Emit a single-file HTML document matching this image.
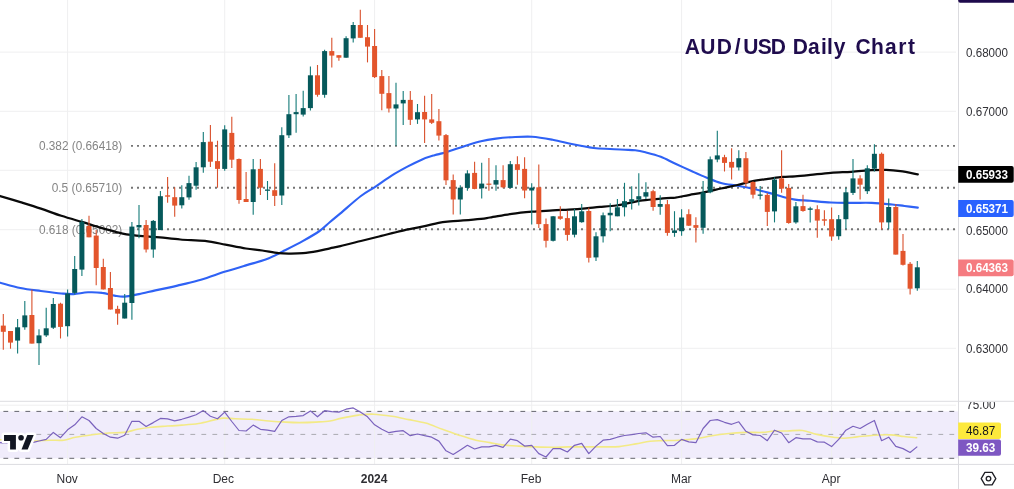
<!DOCTYPE html>
<html lang="en"><head><meta charset="utf-8"><title>AUD/USD Daily Chart</title>
<style>html,body{margin:0;padding:0;background:#fff;}body{width:1014px;height:489px;overflow:hidden;font-family:"Liberation Sans",sans-serif;}svg{display:block;}text{filter:url(#noop);}text{font-family:"Liberation Sans",sans-serif;}</style></head><body>
<svg width="1014" height="489" viewBox="0 0 1014 489">
<defs><filter id="noop" x="-5%" y="-20%" width="110%" height="140%"><feOffset dx="0" dy="0"/></filter></defs>
<rect x="0" y="0" width="1014" height="489" fill="#ffffff"/>
<rect x="0" y="411.4" width="958.3" height="46.9" fill="#f0ecfb"/>
<line x1="67.6" y1="0" x2="67.6" y2="464.4" stroke="#efeff0" stroke-width="1"/>
<line x1="224.7" y1="0" x2="224.7" y2="464.4" stroke="#efeff0" stroke-width="1"/>
<line x1="374.6" y1="0" x2="374.6" y2="464.4" stroke="#efeff0" stroke-width="1"/>
<line x1="531.7" y1="0" x2="531.7" y2="464.4" stroke="#efeff0" stroke-width="1"/>
<line x1="681.6" y1="0" x2="681.6" y2="464.4" stroke="#efeff0" stroke-width="1"/>
<line x1="831.6" y1="0" x2="831.6" y2="464.4" stroke="#efeff0" stroke-width="1"/>
<line x1="0" y1="52.1" x2="956" y2="52.1" stroke="#efeff0" stroke-width="1"/>
<line x1="0" y1="111.3" x2="956" y2="111.3" stroke="#efeff0" stroke-width="1"/>
<line x1="0" y1="170.3" x2="956" y2="170.3" stroke="#efeff0" stroke-width="1"/>
<line x1="0" y1="229.7" x2="956" y2="229.7" stroke="#efeff0" stroke-width="1"/>
<line x1="0" y1="289.2" x2="956" y2="289.2" stroke="#efeff0" stroke-width="1"/>
<line x1="0" y1="348.3" x2="956" y2="348.3" stroke="#efeff0" stroke-width="1"/>
<line x1="0" y1="405.2" x2="956" y2="405.2" stroke="#efeff0" stroke-width="1"/>
<line x1="0" y1="401.3" x2="1014" y2="401.3" stroke="#dcdce0" stroke-width="1"/>
<line x1="0" y1="464.4" x2="1014" y2="464.4" stroke="#dcdce0" stroke-width="1"/>
<line x1="958.5" y1="0" x2="958.5" y2="489" stroke="#dbdbdf" stroke-width="1"/>
<rect x="958.2" y="-3" width="58" height="5.7" rx="2" fill="#1e0a4c"/>
<text x="38.9" y="150.3" font-size="12.5" fill="#858585" textLength="83.4" lengthAdjust="spacingAndGlyphs">0.382 (0.66418)</text>
<line x1="131" y1="145.9" x2="956" y2="145.9" stroke="#747474" stroke-width="1.9" stroke-dasharray="2 4"/>
<text x="51.7" y="192.2" font-size="12.5" fill="#858585" textLength="70.6" lengthAdjust="spacingAndGlyphs">0.5 (0.65710)</text>
<line x1="131" y1="187.8" x2="956" y2="187.8" stroke="#747474" stroke-width="1.9" stroke-dasharray="2 4"/>
<text x="38.9" y="233.6" font-size="12.5" fill="#858585" textLength="83.4" lengthAdjust="spacingAndGlyphs">0.618 (0.65002)</text>
<line x1="131" y1="229.2" x2="956" y2="229.2" stroke="#747474" stroke-width="1.9" stroke-dasharray="2 4"/>
<line x1="3.4" y1="411.4" x2="955" y2="411.4" stroke="#55555c" stroke-width="0.9" stroke-dasharray="4.8 6.2"/>
<line x1="3.4" y1="458.3" x2="955" y2="458.3" stroke="#55555c" stroke-width="0.9" stroke-dasharray="4.8 6.2"/>
<line x1="3.4" y1="434.4" x2="955" y2="434.4" stroke="#a9a9b0" stroke-width="1" stroke-dasharray="4.8 6.2"/>
<path d="M-3.0 282.0 C-2.5 282.1 -3.9 281.7 0.0 282.7 C3.9 283.7 13.6 286.6 20.4 288.0 C27.2 289.4 34.1 290.1 40.9 291.0 C47.7 291.9 55.8 293.0 61.3 293.5 C66.8 294.0 69.1 294.3 73.6 294.1 C78.0 293.9 83.2 292.5 88.0 292.3 C92.8 292.1 97.8 292.3 102.2 292.9 C106.6 293.4 110.8 295.0 114.5 295.6 C118.2 296.2 120.6 296.9 124.7 296.6 C128.8 296.4 133.9 295.1 139.0 294.1 C144.1 293.1 150.2 291.5 155.4 290.4 C160.6 289.3 165.8 288.3 170.0 287.4 C174.2 286.5 175.2 286.2 180.4 284.9 C185.6 283.6 193.4 282.0 200.9 279.8 C208.4 277.6 217.9 274.0 225.4 271.6 C232.9 269.2 239.1 267.4 245.9 265.4 C252.7 263.3 260.2 261.6 266.3 259.3 C272.4 257.0 276.6 254.6 282.7 251.5 C288.8 248.4 297.0 244.3 303.1 240.9 C309.2 237.5 315.0 234.2 319.5 231.0 C324.0 227.8 326.5 224.9 330.0 222.0 C333.5 219.1 335.2 217.7 340.4 213.4 C345.5 209.1 355.1 200.4 360.9 196.0 C366.7 191.6 370.1 190.2 375.2 186.8 C380.3 183.4 386.2 179.0 391.6 175.6 C397.1 172.2 402.8 169.1 407.9 166.4 C413.0 163.7 417.8 161.3 422.2 159.4 C426.6 157.5 431.2 156.2 434.5 155.2 C437.8 154.2 439.4 154.1 442.0 153.4 C444.6 152.7 446.6 152.0 450.4 150.8 C454.2 149.6 459.9 147.6 465.0 146.0 C470.1 144.4 475.8 142.4 481.0 141.2 C486.2 140.0 490.9 139.3 496.0 138.6 C501.1 137.9 505.8 137.5 511.8 137.2 C517.8 136.9 525.2 136.3 532.0 136.7 C538.8 137.1 545.9 138.5 552.7 139.8 C559.5 141.1 566.2 142.9 573.0 144.3 C579.8 145.7 587.4 147.2 593.6 148.0 C599.8 148.8 604.8 148.7 610.0 149.0 C615.2 149.3 620.8 149.5 625.0 149.7 C629.2 149.9 631.8 149.9 635.2 150.3 C638.6 150.7 641.1 151.2 645.4 152.3 C649.7 153.4 655.7 154.9 660.8 156.8 C665.9 158.8 670.7 161.6 676.0 164.0 C681.3 166.4 687.4 169.2 692.5 171.5 C697.6 173.8 702.0 175.8 706.8 177.7 C711.5 179.6 715.9 181.7 721.0 183.0 C726.1 184.3 732.4 184.9 737.5 185.8 C742.6 186.7 746.7 187.4 751.8 188.5 C756.9 189.6 762.9 191.2 768.0 192.6 C773.1 194.0 778.0 195.5 782.5 196.7 C787.0 197.9 790.4 198.9 795.0 199.6 C799.6 200.3 804.4 200.3 810.4 200.8 C816.4 201.3 824.1 202.2 830.9 202.5 C837.7 202.8 844.5 202.8 851.3 202.9 C858.1 203.0 865.0 202.6 871.8 202.9 C878.6 203.2 886.8 204.0 892.2 204.5 C897.7 205.0 900.2 205.5 904.5 206.0 C908.8 206.5 915.6 207.3 917.8 207.6" fill="none" stroke="#2f62f5" stroke-width="2.15" stroke-linejoin="round" stroke-linecap="round"/>
<path d="M-3.0 195.0 C-2.5 195.2 -3.9 194.8 0.0 196.0 C3.9 197.2 13.6 200.0 20.4 202.1 C27.2 204.2 34.1 206.3 40.9 208.6 C47.7 210.9 54.5 213.6 61.3 215.8 C68.1 218.0 75.0 219.9 81.8 221.9 C88.6 223.9 95.4 226.2 102.2 228.1 C109.0 230.0 115.9 232.2 122.7 233.6 C129.5 234.9 136.9 235.6 143.1 236.2 C149.3 236.8 153.8 236.8 160.0 237.4 C166.2 238.0 172.9 238.9 180.4 239.5 C187.9 240.1 197.5 240.1 205.0 240.9 C212.5 241.8 218.6 243.3 225.4 244.6 C232.2 245.9 239.8 247.5 245.9 248.5 C252.0 249.5 256.8 249.7 262.2 250.5 C267.6 251.3 273.8 252.7 278.6 253.2 C283.4 253.7 286.8 253.6 290.9 253.6 C295.0 253.6 298.7 253.6 303.1 253.2 C307.5 252.8 313.0 251.9 317.5 251.1 C322.0 250.3 326.2 249.1 330.0 248.3 C333.8 247.5 335.2 247.3 340.4 246.1 C345.5 244.9 354.1 242.7 360.9 241.0 C367.7 239.3 374.5 237.6 381.3 235.9 C388.1 234.2 395.0 232.3 401.8 230.8 C408.6 229.3 416.1 228.0 422.2 226.7 C428.3 225.4 434.0 223.7 438.6 222.8 C443.2 221.9 445.9 221.8 450.0 221.4 C454.1 221.0 457.9 220.8 463.1 220.4 C468.3 220.0 476.5 219.3 481.0 218.8 C485.5 218.3 484.9 218.3 490.0 217.5 C495.1 216.7 504.8 214.8 511.8 213.8 C518.8 212.8 525.2 212.2 532.0 211.6 C538.8 211.0 545.9 210.8 552.7 210.4 C559.5 210.0 567.2 209.8 573.0 209.4 C578.8 209.0 583.0 208.5 587.5 208.1 C592.0 207.7 595.2 207.3 600.0 206.9 C604.8 206.5 611.8 206.0 616.0 205.5 C620.2 205.0 620.5 204.7 625.0 203.8 C629.5 203.0 636.4 201.3 642.7 200.4 C649.0 199.5 657.5 198.9 663.0 198.4 C668.5 197.9 672.2 198.0 675.4 197.7 C678.6 197.3 679.9 196.8 682.3 196.3 C684.7 195.8 686.6 195.4 690.0 194.8 C693.4 194.2 697.5 193.7 702.7 192.6 C707.9 191.5 715.2 189.8 721.0 188.5 C726.8 187.2 732.4 186.2 737.5 185.0 C742.6 183.8 746.7 182.3 751.8 181.3 C756.9 180.3 762.9 179.6 768.0 178.9 C773.1 178.2 778.0 177.3 782.5 176.9 C787.0 176.5 790.4 176.6 795.0 176.3 C799.6 176.0 804.4 175.5 810.4 174.9 C816.4 174.3 824.1 173.3 830.9 172.8 C837.7 172.3 844.5 172.2 851.3 171.8 C858.1 171.4 866.0 170.5 871.8 170.2 C877.6 169.9 881.3 169.6 886.1 169.8 C890.9 170.0 895.1 170.4 900.4 171.2 C905.7 171.9 914.9 173.8 917.8 174.3" fill="none" stroke="#0a0a0a" stroke-width="2.25" stroke-linejoin="round" stroke-linecap="round"/>
<line x1="3.3" y1="314.0" x2="3.3" y2="349.8" stroke="#d9502c" stroke-width="1.1"/>
<rect x="0.8" y="325.6" width="5.0" height="6.2" fill="#e3552c"/>
<line x1="10.5" y1="331.0" x2="10.5" y2="348.7" stroke="#d9502c" stroke-width="1.1"/>
<rect x="8.0" y="331.0" width="5.0" height="11.6" fill="#e3552c"/>
<line x1="17.6" y1="319.0" x2="17.6" y2="353.4" stroke="#137a78" stroke-width="1.1"/>
<rect x="15.1" y="327.3" width="5.0" height="13.3" fill="#06595b"/>
<line x1="24.8" y1="301.0" x2="24.8" y2="329.7" stroke="#137a78" stroke-width="1.1"/>
<rect x="22.3" y="315.4" width="5.0" height="11.9" fill="#06595b"/>
<line x1="31.9" y1="289.4" x2="31.9" y2="343.6" stroke="#d9502c" stroke-width="1.1"/>
<rect x="29.4" y="315.0" width="5.0" height="28.6" fill="#e3552c"/>
<line x1="39.0" y1="329.3" x2="39.0" y2="365.0" stroke="#137a78" stroke-width="1.1"/>
<rect x="36.5" y="335.4" width="5.0" height="7.8" fill="#06595b"/>
<line x1="46.2" y1="307.8" x2="46.2" y2="337.0" stroke="#137a78" stroke-width="1.1"/>
<rect x="43.7" y="328.3" width="5.0" height="7.1" fill="#06595b"/>
<line x1="53.3" y1="298.0" x2="53.3" y2="329.0" stroke="#137a78" stroke-width="1.1"/>
<rect x="50.8" y="304.0" width="5.0" height="23.7" fill="#06595b"/>
<line x1="60.5" y1="302.7" x2="60.5" y2="338.5" stroke="#d9502c" stroke-width="1.1"/>
<rect x="58.0" y="303.7" width="5.0" height="23.2" fill="#e3552c"/>
<line x1="67.6" y1="289.4" x2="67.6" y2="336.5" stroke="#137a78" stroke-width="1.1"/>
<rect x="65.1" y="293.5" width="5.0" height="32.7" fill="#06595b"/>
<line x1="74.7" y1="256.0" x2="74.7" y2="294.5" stroke="#137a78" stroke-width="1.1"/>
<rect x="72.2" y="269.0" width="5.0" height="23.9" fill="#06595b"/>
<line x1="81.9" y1="218.9" x2="81.9" y2="276.0" stroke="#137a78" stroke-width="1.1"/>
<rect x="79.4" y="221.9" width="5.0" height="47.7" fill="#06595b"/>
<line x1="89.0" y1="215.8" x2="89.0" y2="237.3" stroke="#d9502c" stroke-width="1.1"/>
<rect x="86.5" y="226.0" width="5.0" height="11.3" fill="#e3552c"/>
<line x1="96.2" y1="230.0" x2="96.2" y2="285.3" stroke="#d9502c" stroke-width="1.1"/>
<rect x="93.7" y="235.6" width="5.0" height="32.4" fill="#e3552c"/>
<line x1="103.3" y1="258.7" x2="103.3" y2="289.4" stroke="#d9502c" stroke-width="1.1"/>
<rect x="100.8" y="267.0" width="5.0" height="22.4" fill="#e3552c"/>
<line x1="110.4" y1="272.0" x2="110.4" y2="309.5" stroke="#d9502c" stroke-width="1.1"/>
<rect x="107.9" y="288.0" width="5.0" height="21.5" fill="#e3552c"/>
<line x1="117.6" y1="305.8" x2="117.6" y2="324.8" stroke="#d9502c" stroke-width="1.1"/>
<rect x="115.1" y="308.9" width="5.0" height="4.7" fill="#e3552c"/>
<line x1="124.7" y1="294.0" x2="124.7" y2="318.5" stroke="#137a78" stroke-width="1.1"/>
<rect x="122.2" y="302.7" width="5.0" height="15.8" fill="#06595b"/>
<line x1="131.9" y1="222.0" x2="131.9" y2="319.7" stroke="#137a78" stroke-width="1.1"/>
<rect x="129.4" y="226.6" width="5.0" height="76.4" fill="#06595b"/>
<line x1="139.0" y1="205.0" x2="139.0" y2="238.3" stroke="#137a78" stroke-width="1.1"/>
<rect x="136.5" y="225.0" width="5.0" height="2.4" fill="#06595b"/>
<line x1="146.1" y1="219.9" x2="146.1" y2="252.6" stroke="#d9502c" stroke-width="1.1"/>
<rect x="143.6" y="225.0" width="5.0" height="24.5" fill="#e3552c"/>
<line x1="153.3" y1="219.9" x2="153.3" y2="257.7" stroke="#137a78" stroke-width="1.1"/>
<rect x="150.8" y="220.9" width="5.0" height="28.6" fill="#06595b"/>
<line x1="160.4" y1="191.0" x2="160.4" y2="230.1" stroke="#137a78" stroke-width="1.1"/>
<rect x="157.9" y="196.2" width="5.0" height="33.9" fill="#06595b"/>
<line x1="167.6" y1="177.0" x2="167.6" y2="202.7" stroke="#d9502c" stroke-width="1.1"/>
<rect x="165.1" y="195.3" width="5.0" height="1.4" fill="#e3552c"/>
<line x1="174.7" y1="187.2" x2="174.7" y2="216.8" stroke="#d9502c" stroke-width="1.1"/>
<rect x="172.2" y="197.2" width="5.0" height="8.4" fill="#e3552c"/>
<line x1="181.8" y1="185.2" x2="181.8" y2="208.6" stroke="#137a78" stroke-width="1.1"/>
<rect x="179.3" y="197.2" width="5.0" height="8.1" fill="#06595b"/>
<line x1="189.0" y1="175.8" x2="189.0" y2="199.7" stroke="#137a78" stroke-width="1.1"/>
<rect x="186.5" y="183.1" width="5.0" height="14.3" fill="#06595b"/>
<line x1="196.1" y1="162.1" x2="196.1" y2="189.8" stroke="#137a78" stroke-width="1.1"/>
<rect x="193.6" y="167.3" width="5.0" height="18.4" fill="#06595b"/>
<line x1="203.3" y1="132.0" x2="203.3" y2="172.8" stroke="#137a78" stroke-width="1.1"/>
<rect x="200.8" y="142.1" width="5.0" height="25.2" fill="#06595b"/>
<line x1="210.4" y1="125.0" x2="210.4" y2="166.9" stroke="#d9502c" stroke-width="1.1"/>
<rect x="207.9" y="141.7" width="5.0" height="20.0" fill="#e3552c"/>
<line x1="217.5" y1="140.7" x2="217.5" y2="187.7" stroke="#d9502c" stroke-width="1.1"/>
<rect x="215.0" y="161.1" width="5.0" height="7.8" fill="#e3552c"/>
<line x1="224.7" y1="125.3" x2="224.7" y2="170.7" stroke="#137a78" stroke-width="1.1"/>
<rect x="222.2" y="129.4" width="5.0" height="39.5" fill="#06595b"/>
<line x1="231.8" y1="116.7" x2="231.8" y2="167.9" stroke="#d9502c" stroke-width="1.1"/>
<rect x="229.3" y="132.9" width="5.0" height="26.8" fill="#e3552c"/>
<line x1="239.0" y1="158.5" x2="239.0" y2="203.7" stroke="#d9502c" stroke-width="1.1"/>
<rect x="236.5" y="159.0" width="5.0" height="41.0" fill="#e3552c"/>
<line x1="246.1" y1="172.0" x2="246.1" y2="202.0" stroke="#d9502c" stroke-width="1.1"/>
<rect x="243.6" y="199.0" width="5.0" height="3.0" fill="#e3552c"/>
<line x1="253.2" y1="159.0" x2="253.2" y2="214.7" stroke="#137a78" stroke-width="1.1"/>
<rect x="250.7" y="169.3" width="5.0" height="32.7" fill="#06595b"/>
<line x1="260.4" y1="159.0" x2="260.4" y2="194.9" stroke="#d9502c" stroke-width="1.1"/>
<rect x="257.9" y="168.9" width="5.0" height="18.8" fill="#e3552c"/>
<line x1="267.5" y1="181.0" x2="267.5" y2="200.0" stroke="#137a78" stroke-width="1.1"/>
<rect x="265.0" y="189.5" width="5.0" height="1.3" fill="#06595b"/>
<line x1="274.7" y1="163.2" x2="274.7" y2="206.1" stroke="#d9502c" stroke-width="1.1"/>
<rect x="272.2" y="190.2" width="5.0" height="5.7" fill="#e3552c"/>
<line x1="281.8" y1="127.2" x2="281.8" y2="205.1" stroke="#137a78" stroke-width="1.1"/>
<rect x="279.3" y="135.2" width="5.0" height="60.3" fill="#06595b"/>
<line x1="288.9" y1="94.9" x2="288.9" y2="137.9" stroke="#137a78" stroke-width="1.1"/>
<rect x="286.4" y="114.2" width="5.0" height="21.1" fill="#06595b"/>
<line x1="296.1" y1="93.9" x2="296.1" y2="132.8" stroke="#137a78" stroke-width="1.1"/>
<rect x="293.6" y="112.1" width="5.0" height="2.1" fill="#06595b"/>
<line x1="303.2" y1="90.8" x2="303.2" y2="116.6" stroke="#137a78" stroke-width="1.1"/>
<rect x="300.7" y="108.1" width="5.0" height="6.5" fill="#06595b"/>
<line x1="310.4" y1="66.5" x2="310.4" y2="110.6" stroke="#137a78" stroke-width="1.1"/>
<rect x="307.9" y="75.3" width="5.0" height="32.8" fill="#06595b"/>
<line x1="317.5" y1="65.0" x2="317.5" y2="96.7" stroke="#d9502c" stroke-width="1.1"/>
<rect x="315.0" y="75.3" width="5.0" height="19.5" fill="#e3552c"/>
<line x1="324.6" y1="49.7" x2="324.6" y2="97.7" stroke="#137a78" stroke-width="1.1"/>
<rect x="322.1" y="51.1" width="5.0" height="43.7" fill="#06595b"/>
<line x1="331.8" y1="37.8" x2="331.8" y2="67.5" stroke="#d9502c" stroke-width="1.1"/>
<rect x="329.3" y="51.1" width="5.0" height="4.5" fill="#e3552c"/>
<line x1="338.9" y1="55.2" x2="338.9" y2="60.7" stroke="#d9502c" stroke-width="1.1"/>
<rect x="336.4" y="55.2" width="5.0" height="2.5" fill="#e3552c"/>
<line x1="346.1" y1="36.2" x2="346.1" y2="57.7" stroke="#137a78" stroke-width="1.1"/>
<rect x="343.6" y="38.2" width="5.0" height="19.5" fill="#06595b"/>
<line x1="353.2" y1="21.9" x2="353.2" y2="42.5" stroke="#137a78" stroke-width="1.1"/>
<rect x="350.7" y="25.0" width="5.0" height="13.4" fill="#06595b"/>
<line x1="360.3" y1="9.8" x2="360.3" y2="37.8" stroke="#d9502c" stroke-width="1.1"/>
<rect x="357.8" y="25.0" width="5.0" height="12.8" fill="#e3552c"/>
<line x1="367.5" y1="25.0" x2="367.5" y2="62.4" stroke="#d9502c" stroke-width="1.1"/>
<rect x="365.0" y="37.2" width="5.0" height="9.4" fill="#e3552c"/>
<line x1="374.6" y1="29.0" x2="374.6" y2="78.1" stroke="#d9502c" stroke-width="1.1"/>
<rect x="372.1" y="46.0" width="5.0" height="31.1" fill="#e3552c"/>
<line x1="381.8" y1="70.1" x2="381.8" y2="110.2" stroke="#d9502c" stroke-width="1.1"/>
<rect x="379.3" y="76.1" width="5.0" height="17.7" fill="#e3552c"/>
<line x1="388.9" y1="76.1" x2="388.9" y2="112.6" stroke="#d9502c" stroke-width="1.1"/>
<rect x="386.4" y="93.1" width="5.0" height="15.4" fill="#e3552c"/>
<line x1="396.0" y1="82.8" x2="396.0" y2="145.7" stroke="#137a78" stroke-width="1.1"/>
<rect x="393.5" y="104.4" width="5.0" height="4.1" fill="#06595b"/>
<line x1="403.2" y1="91.0" x2="403.2" y2="124.9" stroke="#137a78" stroke-width="1.1"/>
<rect x="400.7" y="99.9" width="5.0" height="3.5" fill="#06595b"/>
<line x1="410.3" y1="91.0" x2="410.3" y2="124.9" stroke="#d9502c" stroke-width="1.1"/>
<rect x="407.8" y="99.9" width="5.0" height="19.9" fill="#e3552c"/>
<line x1="417.5" y1="104.0" x2="417.5" y2="123.9" stroke="#137a78" stroke-width="1.1"/>
<rect x="415.0" y="112.2" width="5.0" height="7.2" fill="#06595b"/>
<line x1="424.6" y1="95.8" x2="424.6" y2="142.9" stroke="#d9502c" stroke-width="1.1"/>
<rect x="422.1" y="112.0" width="5.0" height="7.4" fill="#e3552c"/>
<line x1="431.7" y1="93.9" x2="431.7" y2="123.9" stroke="#d9502c" stroke-width="1.1"/>
<rect x="429.2" y="119.4" width="5.0" height="3.4" fill="#e3552c"/>
<line x1="438.9" y1="109.1" x2="438.9" y2="140.4" stroke="#d9502c" stroke-width="1.1"/>
<rect x="436.4" y="121.2" width="5.0" height="14.4" fill="#e3552c"/>
<line x1="446.0" y1="133.9" x2="446.0" y2="184.9" stroke="#d9502c" stroke-width="1.1"/>
<rect x="443.5" y="135.1" width="5.0" height="45.2" fill="#e3552c"/>
<line x1="453.2" y1="174.6" x2="453.2" y2="214.5" stroke="#d9502c" stroke-width="1.1"/>
<rect x="450.7" y="180.1" width="5.0" height="19.4" fill="#e3552c"/>
<line x1="460.3" y1="185.2" x2="460.3" y2="214.5" stroke="#137a78" stroke-width="1.1"/>
<rect x="457.8" y="187.7" width="5.0" height="11.8" fill="#06595b"/>
<line x1="467.4" y1="170.3" x2="467.4" y2="190.7" stroke="#137a78" stroke-width="1.1"/>
<rect x="464.9" y="173.4" width="5.0" height="14.5" fill="#06595b"/>
<line x1="474.6" y1="161.7" x2="474.6" y2="189.3" stroke="#d9502c" stroke-width="1.1"/>
<rect x="472.1" y="172.9" width="5.0" height="16.0" fill="#e3552c"/>
<line x1="481.7" y1="162.7" x2="481.7" y2="198.5" stroke="#137a78" stroke-width="1.1"/>
<rect x="479.2" y="183.6" width="5.0" height="4.7" fill="#06595b"/>
<line x1="488.9" y1="158.0" x2="488.9" y2="190.7" stroke="#d9502c" stroke-width="1.1"/>
<rect x="486.4" y="183.6" width="5.0" height="1.2" fill="#e3552c"/>
<line x1="496.0" y1="165.2" x2="496.0" y2="190.7" stroke="#137a78" stroke-width="1.1"/>
<rect x="493.5" y="180.1" width="5.0" height="4.5" fill="#06595b"/>
<line x1="503.1" y1="165.2" x2="503.1" y2="188.3" stroke="#d9502c" stroke-width="1.1"/>
<rect x="500.6" y="180.1" width="5.0" height="7.2" fill="#e3552c"/>
<line x1="510.3" y1="161.1" x2="510.3" y2="188.3" stroke="#137a78" stroke-width="1.1"/>
<rect x="507.8" y="164.2" width="5.0" height="23.7" fill="#06595b"/>
<line x1="517.4" y1="156.2" x2="517.4" y2="184.8" stroke="#d9502c" stroke-width="1.1"/>
<rect x="514.9" y="164.2" width="5.0" height="5.7" fill="#e3552c"/>
<line x1="524.6" y1="157.2" x2="524.6" y2="198.3" stroke="#d9502c" stroke-width="1.1"/>
<rect x="522.1" y="168.9" width="5.0" height="21.6" fill="#e3552c"/>
<line x1="531.7" y1="183.2" x2="531.7" y2="224.4" stroke="#137a78" stroke-width="1.1"/>
<rect x="529.2" y="187.6" width="5.0" height="2.9" fill="#06595b"/>
<line x1="538.8" y1="164.4" x2="538.8" y2="228.0" stroke="#d9502c" stroke-width="1.1"/>
<rect x="536.3" y="187.3" width="5.0" height="36.8" fill="#e3552c"/>
<line x1="546.0" y1="218.4" x2="546.0" y2="247.6" stroke="#d9502c" stroke-width="1.1"/>
<rect x="543.5" y="224.1" width="5.0" height="16.7" fill="#e3552c"/>
<line x1="553.1" y1="215.9" x2="553.1" y2="241.5" stroke="#137a78" stroke-width="1.1"/>
<rect x="550.6" y="216.3" width="5.0" height="24.5" fill="#06595b"/>
<line x1="560.3" y1="206.3" x2="560.3" y2="219.8" stroke="#d9502c" stroke-width="1.1"/>
<rect x="557.8" y="216.3" width="5.0" height="2.5" fill="#e3552c"/>
<line x1="567.4" y1="210.8" x2="567.4" y2="240.8" stroke="#d9502c" stroke-width="1.1"/>
<rect x="564.9" y="218.1" width="5.0" height="16.8" fill="#e3552c"/>
<line x1="574.5" y1="209.0" x2="574.5" y2="237.4" stroke="#137a78" stroke-width="1.1"/>
<rect x="572.0" y="216.3" width="5.0" height="18.4" fill="#06595b"/>
<line x1="581.7" y1="203.9" x2="581.7" y2="222.7" stroke="#137a78" stroke-width="1.1"/>
<rect x="579.2" y="211.3" width="5.0" height="10.9" fill="#06595b"/>
<line x1="588.8" y1="207.7" x2="588.8" y2="262.5" stroke="#d9502c" stroke-width="1.1"/>
<rect x="586.3" y="211.0" width="5.0" height="46.8" fill="#e3552c"/>
<line x1="596.0" y1="232.3" x2="596.0" y2="260.9" stroke="#137a78" stroke-width="1.1"/>
<rect x="593.5" y="236.3" width="5.0" height="21.1" fill="#06595b"/>
<line x1="603.1" y1="212.4" x2="603.1" y2="242.5" stroke="#137a78" stroke-width="1.1"/>
<rect x="600.6" y="215.3" width="5.0" height="21.0" fill="#06595b"/>
<line x1="610.2" y1="203.2" x2="610.2" y2="231.2" stroke="#137a78" stroke-width="1.1"/>
<rect x="607.7" y="212.8" width="5.0" height="2.5" fill="#06595b"/>
<line x1="617.4" y1="199.1" x2="617.4" y2="216.3" stroke="#137a78" stroke-width="1.1"/>
<rect x="614.9" y="207.3" width="5.0" height="9.0" fill="#06595b"/>
<line x1="624.5" y1="182.8" x2="624.5" y2="216.5" stroke="#137a78" stroke-width="1.1"/>
<rect x="622.0" y="201.2" width="5.0" height="6.1" fill="#06595b"/>
<line x1="631.7" y1="186.3" x2="631.7" y2="209.4" stroke="#137a78" stroke-width="1.1"/>
<rect x="629.2" y="199.2" width="5.0" height="2.5" fill="#06595b"/>
<line x1="638.8" y1="173.2" x2="638.8" y2="205.6" stroke="#137a78" stroke-width="1.1"/>
<rect x="636.3" y="196.2" width="5.0" height="3.4" fill="#06595b"/>
<line x1="645.9" y1="182.3" x2="645.9" y2="198.9" stroke="#137a78" stroke-width="1.1"/>
<rect x="643.4" y="192.2" width="5.0" height="4.4" fill="#06595b"/>
<line x1="653.1" y1="189.7" x2="653.1" y2="210.7" stroke="#d9502c" stroke-width="1.1"/>
<rect x="650.6" y="191.2" width="5.0" height="15.8" fill="#e3552c"/>
<line x1="660.2" y1="195.3" x2="660.2" y2="214.7" stroke="#137a78" stroke-width="1.1"/>
<rect x="657.7" y="204.0" width="5.0" height="2.8" fill="#06595b"/>
<line x1="667.4" y1="200.1" x2="667.4" y2="235.8" stroke="#d9502c" stroke-width="1.1"/>
<rect x="664.9" y="204.2" width="5.0" height="28.7" fill="#e3552c"/>
<line x1="674.5" y1="211.2" x2="674.5" y2="236.8" stroke="#137a78" stroke-width="1.1"/>
<rect x="672.0" y="230.4" width="5.0" height="2.5" fill="#06595b"/>
<line x1="681.6" y1="209.2" x2="681.6" y2="235.7" stroke="#137a78" stroke-width="1.1"/>
<rect x="679.1" y="217.5" width="5.0" height="13.7" fill="#06595b"/>
<line x1="688.8" y1="209.2" x2="688.8" y2="226.1" stroke="#d9502c" stroke-width="1.1"/>
<rect x="686.3" y="214.2" width="5.0" height="11.5" fill="#e3552c"/>
<line x1="695.9" y1="217.3" x2="695.9" y2="242.5" stroke="#d9502c" stroke-width="1.1"/>
<rect x="693.4" y="225.1" width="5.0" height="2.7" fill="#e3552c"/>
<line x1="703.1" y1="181.0" x2="703.1" y2="233.7" stroke="#137a78" stroke-width="1.1"/>
<rect x="700.6" y="192.4" width="5.0" height="35.4" fill="#06595b"/>
<line x1="710.2" y1="156.4" x2="710.2" y2="193.3" stroke="#137a78" stroke-width="1.1"/>
<rect x="707.7" y="159.3" width="5.0" height="33.0" fill="#06595b"/>
<line x1="717.3" y1="130.8" x2="717.3" y2="162.3" stroke="#137a78" stroke-width="1.1"/>
<rect x="714.8" y="155.4" width="5.0" height="4.1" fill="#06595b"/>
<line x1="724.5" y1="154.8" x2="724.5" y2="171.5" stroke="#d9502c" stroke-width="1.1"/>
<rect x="722.0" y="157.2" width="5.0" height="5.7" fill="#e3552c"/>
<line x1="731.6" y1="148.2" x2="731.6" y2="179.6" stroke="#d9502c" stroke-width="1.1"/>
<rect x="729.1" y="161.9" width="5.0" height="5.7" fill="#e3552c"/>
<line x1="738.8" y1="150.3" x2="738.8" y2="170.5" stroke="#137a78" stroke-width="1.1"/>
<rect x="736.3" y="158.2" width="5.0" height="9.2" fill="#06595b"/>
<line x1="745.9" y1="152.1" x2="745.9" y2="186.7" stroke="#d9502c" stroke-width="1.1"/>
<rect x="743.4" y="158.2" width="5.0" height="24.6" fill="#e3552c"/>
<line x1="753.0" y1="181.3" x2="753.0" y2="198.6" stroke="#d9502c" stroke-width="1.1"/>
<rect x="750.5" y="182.0" width="5.0" height="12.7" fill="#e3552c"/>
<line x1="760.2" y1="186.1" x2="760.2" y2="199.6" stroke="#137a78" stroke-width="1.1"/>
<rect x="757.7" y="194.5" width="5.0" height="1.3" fill="#06595b"/>
<line x1="767.3" y1="193.0" x2="767.3" y2="226.1" stroke="#d9502c" stroke-width="1.1"/>
<rect x="764.8" y="194.9" width="5.0" height="17.0" fill="#e3552c"/>
<line x1="774.5" y1="177.4" x2="774.5" y2="222.4" stroke="#137a78" stroke-width="1.1"/>
<rect x="772.0" y="179.6" width="5.0" height="31.8" fill="#06595b"/>
<line x1="781.6" y1="150.3" x2="781.6" y2="192.7" stroke="#d9502c" stroke-width="1.1"/>
<rect x="779.1" y="178.4" width="5.0" height="10.2" fill="#e3552c"/>
<line x1="788.7" y1="183.9" x2="788.7" y2="223.7" stroke="#d9502c" stroke-width="1.1"/>
<rect x="786.2" y="187.9" width="5.0" height="35.1" fill="#e3552c"/>
<line x1="795.9" y1="202.0" x2="795.9" y2="223.7" stroke="#137a78" stroke-width="1.1"/>
<rect x="793.4" y="206.3" width="5.0" height="16.1" fill="#06595b"/>
<line x1="803.0" y1="194.8" x2="803.0" y2="211.8" stroke="#d9502c" stroke-width="1.1"/>
<rect x="800.5" y="206.1" width="5.0" height="4.9" fill="#e3552c"/>
<line x1="810.2" y1="206.8" x2="810.2" y2="222.4" stroke="#137a78" stroke-width="1.1"/>
<rect x="807.7" y="208.4" width="5.0" height="1.4" fill="#06595b"/>
<line x1="817.3" y1="205.3" x2="817.3" y2="237.8" stroke="#d9502c" stroke-width="1.1"/>
<rect x="814.8" y="209.2" width="5.0" height="11.4" fill="#e3552c"/>
<line x1="824.4" y1="210.2" x2="824.4" y2="225.8" stroke="#d9502c" stroke-width="1.1"/>
<rect x="821.9" y="219.3" width="5.0" height="1.4" fill="#e3552c"/>
<line x1="831.6" y1="207.6" x2="831.6" y2="240.7" stroke="#d9502c" stroke-width="1.1"/>
<rect x="829.1" y="219.2" width="5.0" height="17.3" fill="#e3552c"/>
<line x1="838.7" y1="215.0" x2="838.7" y2="239.7" stroke="#137a78" stroke-width="1.1"/>
<rect x="836.2" y="219.2" width="5.0" height="17.0" fill="#06595b"/>
<line x1="845.9" y1="187.8" x2="845.9" y2="229.0" stroke="#137a78" stroke-width="1.1"/>
<rect x="843.4" y="192.3" width="5.0" height="26.9" fill="#06595b"/>
<line x1="853.0" y1="159.1" x2="853.0" y2="194.9" stroke="#137a78" stroke-width="1.1"/>
<rect x="850.5" y="178.4" width="5.0" height="14.5" fill="#06595b"/>
<line x1="860.1" y1="175.3" x2="860.1" y2="199.4" stroke="#d9502c" stroke-width="1.1"/>
<rect x="857.6" y="178.4" width="5.0" height="6.3" fill="#e3552c"/>
<line x1="867.3" y1="165.3" x2="867.3" y2="193.9" stroke="#137a78" stroke-width="1.1"/>
<rect x="864.8" y="168.3" width="5.0" height="22.9" fill="#06595b"/>
<line x1="874.4" y1="144.2" x2="874.4" y2="171.4" stroke="#137a78" stroke-width="1.1"/>
<rect x="871.9" y="153.8" width="5.0" height="14.9" fill="#06595b"/>
<line x1="881.6" y1="152.4" x2="881.6" y2="229.4" stroke="#d9502c" stroke-width="1.1"/>
<rect x="879.1" y="153.8" width="5.0" height="68.6" fill="#e3552c"/>
<line x1="888.7" y1="198.4" x2="888.7" y2="229.0" stroke="#137a78" stroke-width="1.1"/>
<rect x="886.2" y="207.0" width="5.0" height="15.4" fill="#06595b"/>
<line x1="895.8" y1="204.1" x2="895.8" y2="254.6" stroke="#d9502c" stroke-width="1.1"/>
<rect x="893.3" y="207.0" width="5.0" height="47.6" fill="#e3552c"/>
<line x1="903.0" y1="234.0" x2="903.0" y2="265.6" stroke="#d9502c" stroke-width="1.1"/>
<rect x="900.5" y="250.9" width="5.0" height="13.9" fill="#e3552c"/>
<line x1="910.1" y1="262.1" x2="910.1" y2="294.5" stroke="#d9502c" stroke-width="1.1"/>
<rect x="907.6" y="263.8" width="5.0" height="24.9" fill="#e3552c"/>
<line x1="917.3" y1="261.1" x2="917.3" y2="290.8" stroke="#137a78" stroke-width="1.1"/>
<rect x="914.8" y="267.3" width="5.0" height="21.0" fill="#06595b"/>
<path d="M-2.0 439.6 C0.8 439.7 8.9 440.2 15.0 440.4 C21.1 440.6 28.5 441.0 34.4 441.0 C40.3 441.0 45.4 440.3 50.3 440.2 C55.2 440.1 59.5 440.7 63.7 440.2 C67.9 439.7 70.7 438.1 75.4 437.2 C80.2 436.3 86.6 435.4 92.2 434.7 C97.8 434.0 103.7 433.4 109.0 433.0 C114.3 432.6 119.2 433.0 124.0 432.4 C128.8 431.8 133.0 430.2 137.5 429.3 C142.0 428.4 146.3 427.7 150.9 427.2 C155.5 426.7 159.8 426.5 165.0 426.2 C170.2 425.9 176.2 425.6 181.8 425.1 C187.4 424.7 192.9 424.4 198.5 423.5 C204.1 422.6 211.1 420.5 215.3 419.6 C219.5 418.7 220.3 418.2 223.7 418.1 C227.0 418.0 230.7 418.6 235.4 418.8 C240.2 419.0 246.6 418.9 252.2 419.3 C257.8 419.7 263.3 420.5 268.9 421.0 C274.5 421.5 280.7 421.8 285.7 422.1 C290.7 422.4 294.1 422.6 299.1 422.6 C304.1 422.6 310.8 422.4 315.9 422.1 C321.0 421.8 325.7 421.7 330.0 421.0 C334.3 420.3 337.1 419.1 341.8 418.1 C346.6 417.1 353.2 415.8 358.5 415.1 C363.8 414.5 368.0 414.0 373.6 414.2 C379.2 414.4 386.1 415.4 392.0 416.3 C397.9 417.2 403.2 418.5 408.8 419.6 C414.4 420.7 420.0 421.5 425.6 423.1 C431.2 424.7 436.8 427.3 442.4 429.3 C448.0 431.3 453.5 433.4 459.1 435.2 C464.7 437.0 470.8 439.0 475.9 440.2 C481.0 441.4 485.7 441.8 490.0 442.6 C494.3 443.4 497.1 444.3 501.8 444.9 C506.6 445.5 512.9 445.8 518.5 446.1 C524.1 446.4 529.7 446.7 535.3 446.9 C540.9 447.1 546.4 447.3 552.0 447.3 C557.6 447.3 563.2 447.0 568.8 446.9 C574.4 446.8 580.0 446.9 585.6 446.9 C591.2 446.9 596.8 446.9 602.4 446.9 C608.0 446.8 613.5 447.1 619.1 446.6 C624.7 446.1 630.8 444.8 635.9 443.9 C641.0 443.0 645.7 441.9 650.0 441.3 C654.3 440.8 657.0 440.8 661.8 440.6 C666.5 440.4 672.9 440.5 678.5 440.2 C684.1 439.9 689.7 439.6 695.3 438.9 C700.9 438.1 706.4 436.6 712.0 435.7 C717.6 434.8 723.2 434.1 728.8 433.5 C734.4 432.9 740.0 432.6 745.6 432.4 C751.2 432.2 757.7 432.6 762.4 432.4 C767.1 432.2 769.8 431.2 774.0 431.0 C778.2 430.8 782.7 431.1 787.5 431.0 C792.3 430.9 797.7 429.9 802.6 430.5 C807.5 431.1 811.6 433.3 816.8 434.4 C821.9 435.5 829.0 436.6 833.5 437.2 C838.0 437.8 839.7 438.2 843.6 438.2 C847.5 438.1 852.0 437.4 857.0 436.9 C862.0 436.4 868.2 435.5 873.8 435.2 C879.4 434.9 885.5 434.7 890.5 434.9 C895.5 435.1 899.4 436.0 903.9 436.5 C908.4 437.0 915.1 437.5 917.3 437.7" fill="none" stroke="#f3ea86" stroke-width="1.6" stroke-linejoin="round"/>
<path d="M-2.0 442.4 L7.0 443.3 L20.0 443.0 L34.4 442.2 L39.0 441.0 L46.2 439.4 L53.3 432.4 L60.5 437.7 L67.6 429.8 L74.7 424.8 L81.9 416.8 L89.0 420.5 L96.2 428.5 L103.3 433.5 L110.4 437.2 L117.6 438.2 L124.7 435.2 L131.9 421.3 L139.0 421.3 L146.1 426.5 L153.3 422.6 L160.4 418.4 L167.6 418.8 L174.7 420.8 L181.8 419.3 L189.0 417.1 L196.1 414.8 L203.3 410.6 L210.4 416.3 L217.5 418.8 L224.7 412.1 L231.8 421.5 L239.0 430.5 L246.1 431.0 L253.2 425.1 L260.4 429.3 L267.5 430.2 L274.7 431.3 L281.8 420.5 L288.9 416.8 L296.1 416.4 L303.2 415.6 L310.4 410.9 L317.5 416.8 L324.6 410.7 L331.8 411.7 L338.9 412.1 L346.1 409.2 L353.2 407.9 L360.3 412.1 L367.5 416.8 L374.6 424.8 L381.8 429.3 L388.9 432.7 L396.0 431.3 L403.2 430.7 L410.3 435.7 L417.5 434.0 L424.6 435.7 L431.7 437.2 L438.9 441.1 L446.0 450.8 L453.2 454.5 L460.3 450.0 L467.4 445.3 L474.6 449.0 L481.7 446.9 L488.9 446.9 L496.0 445.3 L503.1 447.3 L510.3 439.1 L517.4 440.7 L524.6 446.1 L531.7 445.3 L538.8 453.6 L546.0 457.0 L553.1 448.6 L560.3 448.6 L567.4 452.0 L574.5 445.3 L581.7 443.3 L588.8 453.6 L596.0 446.1 L603.1 440.2 L610.2 439.4 L617.4 437.2 L624.5 435.5 L631.7 434.7 L638.8 433.5 L645.9 432.8 L653.1 437.2 L660.2 436.5 L667.4 445.6 L674.5 445.3 L681.6 439.4 L688.8 441.9 L695.9 442.7 L703.1 428.5 L710.2 420.5 L717.3 419.6 L724.5 422.3 L731.6 424.3 L738.8 421.8 L745.9 431.3 L753.0 434.9 L760.2 435.5 L767.3 440.7 L774.5 430.2 L781.6 433.0 L788.7 442.7 L795.9 437.7 L803.0 438.9 L810.2 438.8 L817.3 441.9 L824.4 442.2 L831.6 446.6 L838.7 439.4 L845.9 430.2 L853.0 426.3 L860.1 428.5 L867.3 424.3 L874.4 420.5 L881.6 440.7 L888.7 437.2 L895.8 446.4 L903.0 448.6 L910.1 452.5 L917.3 446.6" fill="none" stroke="#7a62bd" stroke-width="1.2" stroke-linejoin="round"/>
<g fill="#ffffff" stroke="#ffffff" stroke-width="5" stroke-linejoin="round"><path d="M4.05 435.1 H15.9 V449.6 H10.1 V440.9 H4.05 Z"/><circle cx="21.05" cy="437.8" r="2.8"/><path d="M27.3 435.1 H33.7 L27.7 449.6 H21.5 Z"/></g>
<rect x="14" y="434.5" width="14" height="15.5" fill="#ffffff"/>
<g fill="#131722"><path d="M4.05 435.1 H15.9 V449.6 H10.1 V440.9 H4.05 Z"/><circle cx="21.05" cy="437.8" r="2.8"/><path d="M27.3 435.1 H33.7 L27.7 449.6 H21.5 Z"/></g>
<text x="966" y="56.7" font-size="12.4" fill="#333338" textLength="42" lengthAdjust="spacingAndGlyphs">0.68000</text>
<text x="966" y="115.7" font-size="12.4" fill="#333338" textLength="42" lengthAdjust="spacingAndGlyphs">0.67000</text>
<text x="966" y="234.8" font-size="12.4" fill="#333338" textLength="42" lengthAdjust="spacingAndGlyphs">0.65000</text>
<text x="966" y="293.4" font-size="12.4" fill="#333338" textLength="42" lengthAdjust="spacingAndGlyphs">0.64000</text>
<text x="966" y="352.7" font-size="12.4" fill="#333338" textLength="42" lengthAdjust="spacingAndGlyphs">0.63000</text>
<clipPath id="c75"><rect x="958.4" y="402" width="56" height="20"/></clipPath>
<text x="966.3" y="408.8" font-size="12.4" fill="#333338" textLength="29.3" lengthAdjust="spacingAndGlyphs" clip-path="url(#c75)">75.00</text>
<path d="M958.2 166.0 H1011.7 a2 2 0 0 1 2 2 V180.8 a2 2 0 0 1 -2 2 H958.2 Z" fill="#000000"/>
<text x="966" y="178.7" font-size="12" font-weight="bold" fill="#ffffff" textLength="42.0" lengthAdjust="spacingAndGlyphs">0.65933</text>
<path d="M958.2 200.1 H1011.7 a2 2 0 0 1 2 2 V215.0 a2 2 0 0 1 -2 2 H958.2 Z" fill="#2962ff"/>
<text x="966" y="212.9" font-size="12" font-weight="bold" fill="#ffffff" textLength="42.0" lengthAdjust="spacingAndGlyphs">0.65371</text>
<path d="M958.2 259.4 H1011.7 a2 2 0 0 1 2 2 V274.3 a2 2 0 0 1 -2 2 H958.2 Z" fill="#f57b80"/>
<text x="966" y="272.2" font-size="12" font-weight="bold" fill="#ffffff" textLength="42.0" lengthAdjust="spacingAndGlyphs">0.64363</text>
<path d="M958.2 422.5 H999.0 a2 2 0 0 1 2 2 V437.1 a2 2 0 0 1 -2 2 H958.2 Z" fill="#fde93c"/>
<text x="966" y="435.1" font-size="12" font-weight="normal" fill="#15151a" textLength="29.3" lengthAdjust="spacingAndGlyphs">46.87</text>
<path d="M958.2 439.6 H999.0 a2 2 0 0 1 2 2 V453.7 a2 2 0 0 1 -2 2 H958.2 Z" fill="#7e57c2"/>
<text x="966" y="451.9" font-size="12" font-weight="bold" fill="#ffffff" textLength="29.3" lengthAdjust="spacingAndGlyphs">39.63</text>
<text x="67.2" y="482.5" text-anchor="middle" font-size="12" fill="#2e2e33">Nov</text>
<text x="223.3" y="482.5" text-anchor="middle" font-size="12" fill="#2e2e33">Dec</text>
<text x="374.1" y="482.5" text-anchor="middle" font-size="12" fill="#2e2e33" font-weight="bold">2024</text>
<text x="531.1" y="482.5" text-anchor="middle" font-size="12" fill="#2e2e33">Feb</text>
<text x="681.3" y="482.5" text-anchor="middle" font-size="12" fill="#2e2e33">Mar</text>
<text x="831.2" y="482.5" text-anchor="middle" font-size="12" fill="#2e2e33">Apr</text>
<polygon points="995.8,478.6 992.1,484.9 984.9,484.9 981.2,478.6 984.9,472.3 992.1,472.3" fill="none" stroke="#1e1e24" stroke-width="1.3" stroke-linejoin="round"/>
<circle cx="988.5" cy="478.6" r="2.3" fill="none" stroke="#1e1e24" stroke-width="1.3"/>
<text transform="scale(0.930 1)" y="54.5" x="736.38 752.83 770.77 790.07 799.28 814.86 828.68 845.16 852.44 868.82 882.92 889.31 896.52 911.83 919.92 936.66 951.51 965.94 976.32" font-size="22.6" font-weight="bold" fill="#1f0c4d">AUD/USD Daily Chart</text>
</svg></body></html>
